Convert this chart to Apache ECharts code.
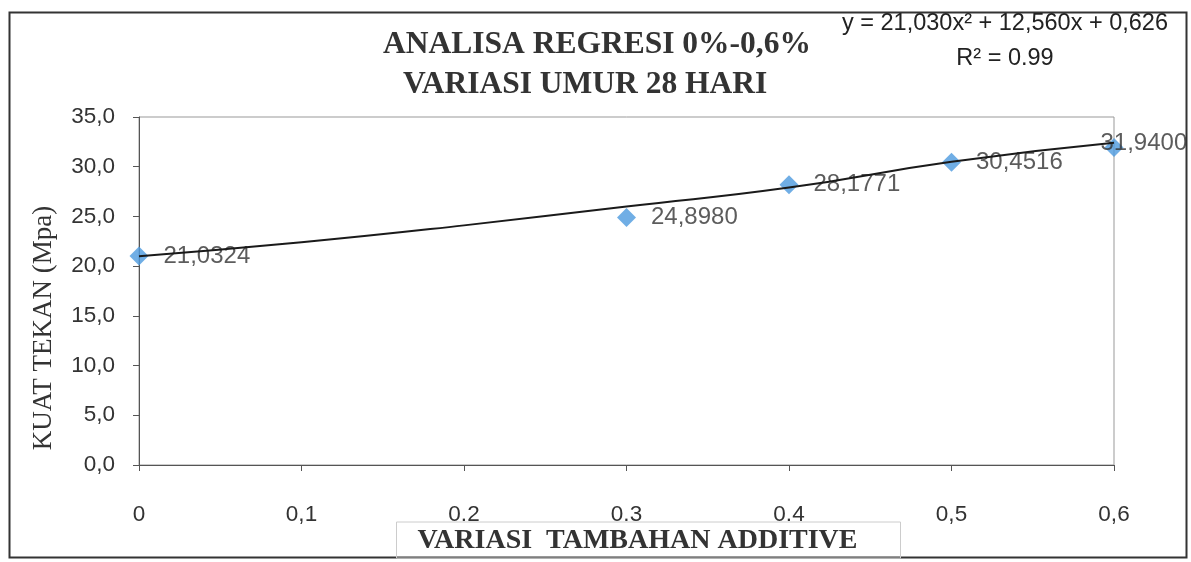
<!DOCTYPE html>
<html>
<head>
<meta charset="utf-8">
<script src="https://cdn.jsdelivr.net/npm/echarts@6/dist/echarts.min.js"></script>
<style>
  html, body { margin: 0; padding: 0; background: #fff; }
  #chart { width: 1191px; height: 562px; }
</style>
</head>
<body>
<div id="chart"></div>
<script>
// ---- data ----
const additive = [0, 0.3, 0.4, 0.5, 0.6];
const kuatTekan = [21.0324, 24.8980, 28.1771, 30.4516, 31.9400];
const trendX = [0, 0.1, 0.2, 0.3, 0.4, 0.5, 0.6];
const trendY = [21.0, 22.4, 24.1, 26.0, 27.9, 30.5, 32.4];
const xTickLabels = ['0', '0,1', '0.2', '0.3', '0.4', '0,5', '0,6'];
const titleLines = ['ANALISA REGRESI 0%-0,6%', 'VARIASI UMUR 28 HARI   '];
const equationLines = ['y = 21,030x\u00B2 + 12,560x + 0,626', 'R\u00B2 = 0.99'];
const xName = 'VARIASI  TAMBAHAN ADDITIVE';
const yName = 'KUAT TEKAN (Mpa)';

const chart = echarts.init(document.getElementById('chart'));
const sans = '"Liberation Sans", Arial, sans-serif';
const serif = '"Liberation Serif", "Times New Roman", serif';

const pointData = additive.map((x, i) => {
  const item = { value: [x, kuatTekan[i]] };
  if (i === additive.length - 1) item.label = { offset: [-38, -4] };
  return item;
});

chart.setOption({
  animation: false,
  backgroundColor: '#fff',
  graphic: [{
    type: 'rect',
    left: 7, top: 10,
    shape: { width: 1177, height: 545 },
    style: { fill: 'none', stroke: '#333', lineWidth: 2 },
    silent: true
  }],
  title: [{
    text: titleLines.join('\n'),
    left: 592, top: 20, textAlign: 'center',
    textStyle: { fontFamily: serif, fontWeight: 'bold', fontSize: 31.5, lineHeight: 40, color: '#333' }
  }, {
    text: equationLines.join('\n'),
    left: 1000, top: 1, textAlign: 'center',
    textStyle: { fontFamily: sans, fontWeight: 'normal', fontSize: 23.5, lineHeight: 35, color: '#222' }
  }],
  grid: {
    left: 139, right: 77, top: 117, bottom: 97,
    show: true, borderColor: '#999', borderWidth: 1,
    outerBoundsMode: 'none'
  },
  xAxis: {
    type: 'value', min: 0, max: 0.6, interval: 0.1,
    name: '{s|}{b|' + xName + '}', nameLocation: 'middle', nameGap: 57,
    nameMoveOverlap: false,
    nameTextStyle: {
      rich: {
        s: { width: 44 },
        b: {
          fontFamily: serif, fontWeight: 'bold', fontSize: 28, color: '#333',
          borderColor: '#ccc', borderWidth: 1, padding: [5, 43, 3, 21]
        }
      }
    },
    axisLine: { lineStyle: { color: '#555', width: 1 } },
    axisTick: { show: true, inside: false, length: 6, lineStyle: { color: '#555' } },
    splitLine: { show: false },
    axisLabel: {
      margin: 38, fontFamily: sans, fontSize: 22.5, color: '#333',
      formatter: v => xTickLabels[Math.round(v * 10)] ?? ''
    }
  },
  yAxis: {
    type: 'value', min: 0, max: 35, interval: 5,
    name: yName, nameLocation: 'middle', nameGap: 82, nameRotate: 90,
    nameMoveOverlap: false,
    nameTextStyle: { fontFamily: serif, fontSize: 27, color: '#333', padding: [0, 74, 0, 0] },
    axisLine: { show: true, lineStyle: { color: '#555', width: 1 } },
    axisTick: { show: true, inside: false, length: 6, lineStyle: { color: '#555' } },
    splitLine: { show: false },
    axisLabel: {
      margin: 24, fontFamily: sans, fontSize: 22.5, color: '#333',
      formatter: v => v.toFixed(1).replace('.', ',')
    }
  },
  series: [{
    type: 'scatter',
    z: 2,
    symbol: 'diamond',
    symbolSize: 19,
    itemStyle: { color: '#4c9ade' },
    label: {
      show: true, position: 'right', distance: 15,
      fontFamily: sans, fontSize: 24, color: '#333',
      formatter: p => p.value[1].toFixed(4).replace('.', ',')
    },
    data: pointData
  }, {
    type: 'line',
    z: 3,
    smooth: true,
    showSymbol: false,
    symbol: 'none',
    lineStyle: { color: '#1a1a1a', width: 2 },
    data: trendX.map((x, i) => [x, trendY[i]])
  }]
});
</script>
</body>
</html>
